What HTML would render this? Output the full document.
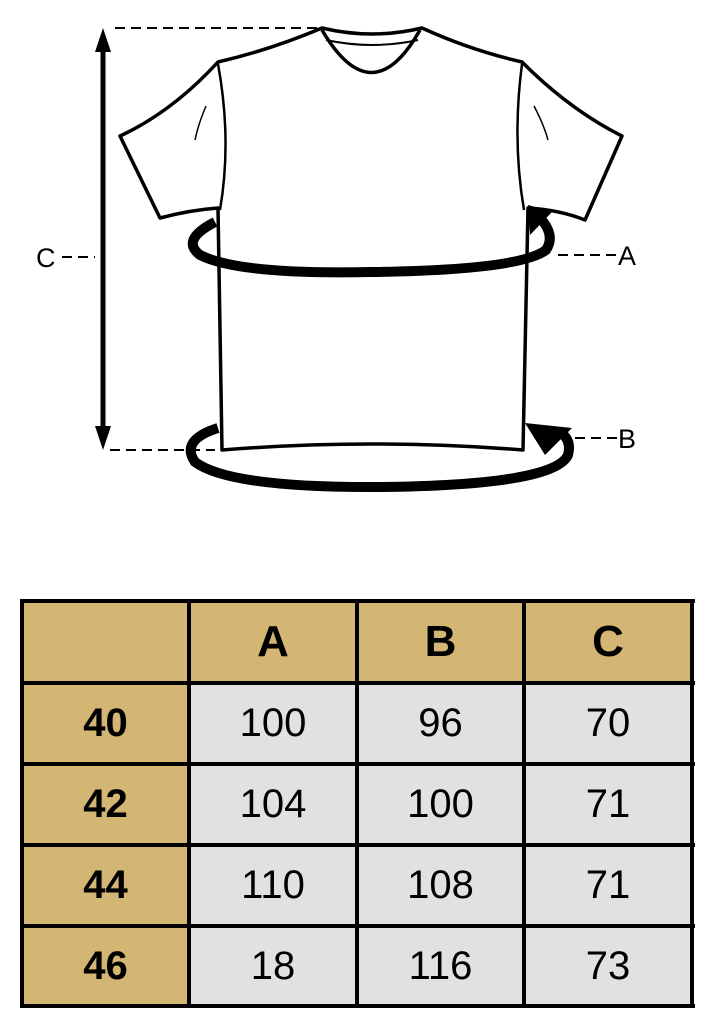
<!DOCTYPE html>
<html><head><meta charset="utf-8"><style>
body{margin:0;width:713px;height:1013px;background:#fff;position:relative;overflow:hidden;font-family:"Liberation Sans",sans-serif}
svg{position:absolute;left:0;top:0}
.c{position:absolute;display:flex;align-items:center;justify-content:center;font-size:40px;background:#e1e1e1;color:#000}
.h{background:#d3b574;font-weight:bold}
.l{position:absolute;background:#000}
</style></head><body>
<svg width="713" height="560" viewBox="0 0 713 560">
<g fill="none" stroke="#000" stroke-width="3.5" stroke-linejoin="round">
<path d="M322,28 Q372,40 422,28 Q470,50 522,62 Q570,110 622,136 L585,220 Q560,210 528,208 L523,450 Q372,438 222,450 L218,208 Q190,210 160,218 L120,136 Q172,112 218,62 Q270,50 322,28 Z" fill="#fff"/>
<path d="M322,30 Q372,115 420,30"/>
<path d="M326,40 Q372,50 418,40" stroke-width="2"/>
<path d="M218,64 Q232,140 220,210" stroke-width="2.5"/>
<path d="M522,64 Q512,140 524,210" stroke-width="2.5"/>
<path d="M206,106 Q198,125 195,140" stroke-width="1.5"/>
<path d="M534,106 Q544,125 548,140" stroke-width="1.5"/>
</g>
<g stroke="#000" stroke-width="2" stroke-dasharray="10,6">
<line x1="115" y1="28" x2="320" y2="28"/>
<line x1="110" y1="450" x2="215" y2="450"/>
<line x1="62" y1="257" x2="95" y2="257"/>
<line x1="558" y1="255" x2="620" y2="255"/>
<line x1="575" y1="438" x2="618" y2="438"/>
</g>
<line x1="103" y1="45" x2="103" y2="432" stroke="#000" stroke-width="5"/>
<polygon points="103,28 95,52 111,52" fill="#000"/>
<polygon points="103,450 95,426 111,426" fill="#000"/>
<path d="M215,222 Q180,240 200,255 Q240,275 372,272 Q520,270 546,250 Q556,235 540,218" fill="none" stroke="#000" stroke-width="10"/>
<polygon points="528,205 552,212 530,235" fill="#000"/>
<path d="M218,428 Q180,440 195,462 Q230,488 380,487 Q555,485 568,455 Q572,440 560,432" fill="none" stroke="#000" stroke-width="10"/>
<polygon points="525,423 572,428 545,455" fill="#000"/>
<g font-family="Liberation Sans,sans-serif" font-size="27" fill="#000">
<text x="36" y="267">C</text>
<text x="618" y="265">A</text>
<text x="618" y="448">B</text>
</g>
</svg>

<div class="c h" style="left:22px;top:601px;width:167px;height:82px"></div>
<div class="c h" style="left:189px;top:601px;width:168px;height:82px;font-size:44px">A</div>
<div class="c h" style="left:357px;top:601px;width:167px;height:82px;font-size:44px">B</div>
<div class="c h" style="left:524px;top:601px;width:168px;height:82px;font-size:44px">C</div>

<div class="c h" style="left:22px;top:683px;width:167px;height:81px">40</div>
<div class="c" style="left:189px;top:683px;width:168px;height:81px">100</div>
<div class="c" style="left:357px;top:683px;width:167px;height:81px">96</div>
<div class="c" style="left:524px;top:683px;width:168px;height:81px">70</div>

<div class="c h" style="left:22px;top:764px;width:167px;height:81px">42</div>
<div class="c" style="left:189px;top:764px;width:168px;height:81px">104</div>
<div class="c" style="left:357px;top:764px;width:167px;height:81px">100</div>
<div class="c" style="left:524px;top:764px;width:168px;height:81px">71</div>

<div class="c h" style="left:22px;top:845px;width:167px;height:81px">44</div>
<div class="c" style="left:189px;top:845px;width:168px;height:81px">110</div>
<div class="c" style="left:357px;top:845px;width:167px;height:81px">108</div>
<div class="c" style="left:524px;top:845px;width:168px;height:81px">71</div>

<div class="c h" style="left:22px;top:926px;width:167px;height:81px">46</div>
<div class="c" style="left:189px;top:926px;width:168px;height:81px">18</div>
<div class="c" style="left:357px;top:926px;width:167px;height:81px">116</div>
<div class="c" style="left:524px;top:926px;width:168px;height:81px">73</div>

<div class="l" style="left:20px;top:599px;width:675px;height:4px"></div>
<div class="l" style="left:20px;top:681px;width:675px;height:4px"></div>
<div class="l" style="left:20px;top:762px;width:675px;height:4px"></div>
<div class="l" style="left:20px;top:843px;width:675px;height:4px"></div>
<div class="l" style="left:20px;top:924px;width:675px;height:4px"></div>
<div class="l" style="left:20px;top:1004px;width:675px;height:4px"></div>
<div class="l" style="left:20px;top:599px;width:4px;height:409px"></div>
<div class="l" style="left:187px;top:599px;width:4px;height:409px"></div>
<div class="l" style="left:355px;top:599px;width:4px;height:409px"></div>
<div class="l" style="left:522px;top:599px;width:4px;height:409px"></div>
<div class="l" style="left:690px;top:599px;width:4px;height:409px"></div>
</body></html>
